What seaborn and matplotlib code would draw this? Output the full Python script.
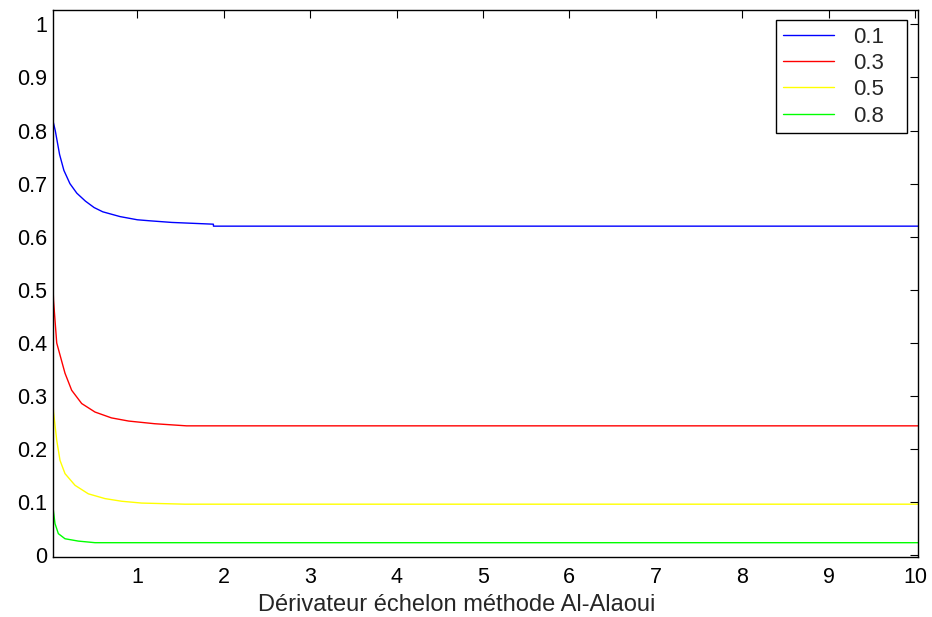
import matplotlib
matplotlib.use("Agg")
import matplotlib.pyplot as plt
import seaborn as sns
import pandas as pd
from matplotlib.lines import Line2D

# ---- data ----
labels = ["0.1", "0.3", "0.5", "0.8"]
colors = ["#0000ff", "#ff0000", "#ffff00", "#00ff00"]

x_01 = [0.02, 0.021, 0.05, 0.1, 0.15, 0.22, 0.3, 0.4, 0.5, 0.6, 0.8, 1.0, 1.15, 1.4, 1.88, 1.881, 10.035]
y_01 = [0.87, 0.82, 0.80, 0.755, 0.725, 0.70, 0.682, 0.667, 0.655, 0.647, 0.638, 0.632, 0.630, 0.627, 0.6237, 0.620, 0.620]

x_03 = [0.02, 0.021, 0.03, 0.067, 0.163, 0.24, 0.356, 0.51, 0.70, 0.90, 1.2, 1.57, 10.035]
y_03 = [0.65, 0.52, 0.48, 0.40, 0.343, 0.311, 0.286, 0.270, 0.259, 0.253, 0.248, 0.244, 0.244]

x_05 = [0.02, 0.021, 0.03, 0.067, 0.105, 0.163, 0.279, 0.433, 0.626, 0.82, 1.05, 1.55, 10.035]
y_05 = [0.44, 0.30, 0.27, 0.217, 0.179, 0.154, 0.132, 0.116, 0.107, 0.102, 0.0986, 0.0965, 0.0965]

x_08 = [0.02, 0.021, 0.028, 0.047, 0.086, 0.163, 0.317, 0.51, 10.035]
y_08 = [0.12, 0.095, 0.085, 0.060, 0.041, 0.0314, 0.027, 0.024, 0.024]

xs = [x_01, x_03, x_05, x_08]
ys = [y_01, y_03, y_05, y_08]

x_ticks = [1, 2, 3, 4, 5, 6, 7, 8, 9, 10]
y_ticks = [0, 0.1, 0.2, 0.3, 0.4, 0.5, 0.6, 0.7, 0.8, 0.9, 1]
y_ticklabels = ["0", "0.1", "0.2", "0.3", "0.4", "0.5", "0.6", "0.7", "0.8", "0.9", "1"]
xlabel = "Dérivateur échelon méthode Al-Alaoui"

# ---- plotting ----
sns.set_style("white")
plt.rcParams["font.family"] = ["Liberation Sans", "DejaVu Sans"]

fig = plt.figure(figsize=(9.32, 6.17), dpi=100)
ax = fig.add_axes([0.0565, 0.0972, 0.9285, 0.8866])

frames = []
for lab, x, y in zip(labels, xs, ys):
    frames.append(pd.DataFrame({"x": x, "y": y, "series": lab}))
df = pd.concat(frames, ignore_index=True)

sns.lineplot(data=df, x="x", y="y", hue="series", palette=dict(zip(labels, colors)),
             hue_order=labels, sort=False, estimator=None, linewidth=1.0, ax=ax, legend=False)

ax.set_xlim(0.02, 10.035)
ax.set_ylim(-0.003, 1.027)
ax.set_xticks(x_ticks)
ax.set_xticklabels([str(t) for t in x_ticks])
ax.set_yticks(y_ticks)
ax.set_yticklabels(y_ticklabels)
ax.set_xlabel(xlabel, fontsize=17)
ax.xaxis.set_label_coords(0.467, -0.068)
ax.set_ylabel("")

ax.tick_params(direction="in", length=6, width=0.8, top=True, right=True,
               labelsize=15.5, colors="black")
ax.tick_params(axis="x", pad=7)
ax.tick_params(axis="y", pad=4)
for s in ax.spines.values():
    s.set_visible(True)
    s.set_color("black")
    s.set_linewidth(1.0)

handles = [Line2D([0], [0], color=c, lw=1.0) for c in colors]
leg = ax.legend(handles, labels, loc="upper left", mode="expand", fontsize=16,
                frameon=True, fancybox=False, edgecolor="black", framealpha=1,
                handlelength=2.3, handletextpad=0.85, borderpad=0.3,
                labelspacing=0.24, borderaxespad=0,
                bbox_to_anchor=(0.836, 0.0, 0.151, 0.982))
leg.get_frame().set_linewidth(1.0)

fig.savefig("out.png", dpi=100, facecolor="white")
